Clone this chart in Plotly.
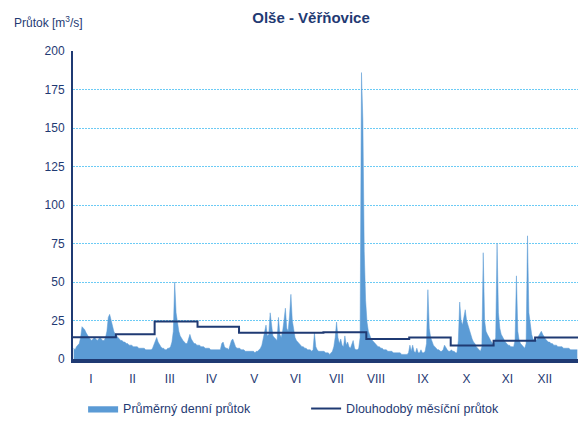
import numpy as np
import plotly.graph_objects as go

# Daily mean discharge [m3/s], per month
jan = [7, 6, 8, 9, 10, 14, 21, 20, 19, 17, 15, 14, 13, 12, 13, 14, 13, 12, 13, 14,
       13, 12, 12, 14, 18, 27, 29, 25, 21, 18, 16]
feb = [15, 14, 13, 12, 12, 11, 11, 10, 10, 9, 9, 9, 8, 8, 8, 8, 7, 7, 7, 7,
       7, 6, 6, 6, 6, 6, 7, 9]
mar = [12, 14, 11, 9, 8, 7, 7, 6, 6, 7, 7, 8, 11, 18, 50, 30, 22, 18, 15, 13,
       12, 11, 10, 10, 14, 16, 13, 11, 10, 10, 9]
apr = [9, 9, 8, 8, 8, 7, 7, 7, 7, 6, 6, 6, 6, 6, 6, 6, 6, 10, 11, 8,
       7, 7, 6, 9, 12, 13, 10, 8, 7, 7]
may = [7, 6, 6, 6, 5, 5, 5, 5, 5, 5, 5, 4, 5, 5, 6, 7, 9, 14, 18, 22,
       15, 16, 30, 20, 15, 14, 13, 12, 27, 16, 14]
jun = [18, 25, 33, 20, 18, 28, 42, 25, 18, 14, 12, 11, 10, 9, 8, 8, 7, 7, 6, 6,
       6, 5, 6, 17, 8, 6, 5, 5, 5, 5]
jul = [5, 4, 4, 4, 3, 4, 5, 8, 14, 24, 14, 10, 13, 9, 8, 15, 9, 11, 8, 7,
       9, 12, 7, 6, 6, 7, 14, 186, 155, 70, 38]
aug = [24, 18, 15, 13, 12, 11, 10, 9, 8, 8, 7, 7, 6, 6, 6, 5, 5, 5, 5, 4,
       4, 4, 4, 4, 4, 3, 3, 3, 3, 3, 4]
sep = [9, 5, 9, 5, 4, 7, 4, 4, 6, 4, 4, 5, 10, 45, 20, 14, 11, 9, 8, 7,
       6, 6, 5, 5, 6, 9, 7, 6, 5, 5]
oct_ = [6, 5, 5, 4, 4, 12, 37, 25, 22, 26, 32, 25, 22, 18, 15, 13, 11, 10, 8, 7,
        6, 5, 8, 69, 25, 18, 16, 14, 12, 11, 10]
nov = [10, 14, 75, 30, 20, 16, 14, 12, 11, 10, 9, 9, 8, 8, 8, 12, 54, 18, 12, 10,
       9, 8, 7, 10, 80, 30, 22, 16, 13, 12]
dec = [12, 13, 15, 17, 18, 16, 14, 13, 12, 11, 11, 10, 10, 9, 9, 9, 8, 8, 8, 8,
       7, 7, 7, 7, 7, 6, 6, 6, 6, 6, 6]

months = ["I", "II", "III", "IV", "V", "VI", "VII", "VIII", "IX", "X", "XI", "XII"]
# Day-of-year where each month label sits on the axis
month_label_day = [13, 43, 70, 100, 131, 161, 190.5, 219, 253, 284.5, 314, 341]
# Long-term mean monthly discharge [m3/s]
monthly_mean = [14.1, 16.1, 24.3, 21.0, 17.1, 17.1, 17.4, 13.0, 13.9, 8.7, 11.8, 13.9]

daily_blocks = [jan, feb, mar, apr, may, jun, jul, aug, sep, oct_, nov, dec]
daily = np.concatenate([np.array(b, dtype=float) for b in daily_blocks])
day_x = np.arange(len(daily)) + 0.5

month_len = np.array([len(b) for b in daily_blocks])
month_start = np.concatenate([[0], np.cumsum(month_len)])
step_x = month_start
step_y = list(monthly_mean) + [monthly_mean[-1]]

NAVY = "#1F3A73"
BLUE = "#5B9BD5"
FONT = "Liberation Sans, Arial, sans-serif"

fig = go.Figure()
fig.add_trace(go.Scatter(
    x=day_x, y=daily, mode="lines", fill="tozeroy",
    line=dict(color=BLUE, width=0.5), fillcolor=BLUE,
    name="Průměrný denní průtok", hoverinfo="skip"))
fig.add_trace(go.Scatter(
    x=step_x, y=step_y, mode="lines", line_shape="hv",
    line=dict(color=NAVY, width=2),
    name="Dlouhodobý měsíční průtok", hoverinfo="skip"))

fig.update_layout(
    width=580, height=422,
    margin=dict(l=73, r=2, t=51, b=63, autoexpand=False),
    paper_bgcolor="white", plot_bgcolor="white",
    font=dict(family=FONT, size=12, color=NAVY),
    title=dict(text="<b>Olše - Věřňovice</b>", x=311 / 580, xanchor="center",
               y=1 - 18 / 422, yanchor="middle",
               font=dict(size=15, color=NAVY, family=FONT)),
    showlegend=True,
    legend=dict(orientation="h", x=0.020, xanchor="left", y=-0.162, yanchor="middle",
                entrywidth=178, entrywidthmode="pixels",
                font=dict(size=12.5, color=NAVY, family=FONT),
                bgcolor="rgba(0,0,0,0)"),
    xaxis=dict(range=[0, 365], tickmode="array", tickvals=month_label_day, ticktext=months,
               showgrid=False, zeroline=False, showline=True, linecolor=NAVY, linewidth=4,
               ticks="", ticklabelstandoff=6, tickfont=dict(size=12, color=NAVY)),
    yaxis=dict(range=[0, 200], dtick=25, showgrid=True, gridcolor="#6CCBF5",
               griddash="2px,1px", gridwidth=1, zeroline=False,
               showline=True, linecolor=NAVY, linewidth=2, ticks="",
               ticklabelstandoff=4, tickfont=dict(size=12, color=NAVY)),
    annotations=[dict(text="Průtok [m<sup>3</sup>/s]", xref="paper", yref="paper",
                      x=(12 - 73) / 505, xanchor="left",
                      y=1 + (51 - 22) / 308, yanchor="middle", showarrow=False,
                      font=dict(size=12, color=NAVY, family=FONT))],
)

fig.write_html("out.html", config={"displayModeBar": False},
               post_script="document.body.style.margin='0';document.body.style.overflow='hidden';")
